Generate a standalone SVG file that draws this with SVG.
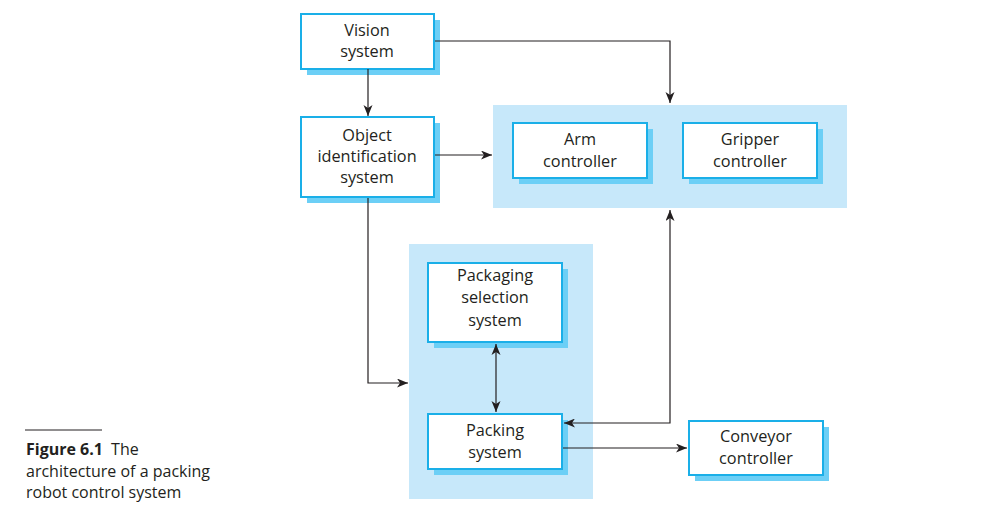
<svg xmlns="http://www.w3.org/2000/svg" width="997" height="519" viewBox="0 0 997 519">
<style>
.bg{fill:#fff}
.cont{fill:#c7e8fa}
.shadow{fill:#6ccff6}
.box{fill:#fff;stroke:#1aafe8;stroke-width:2}
.t{font-family:"Open Sans","Noto Sans",sans-serif;font-size:16.3px;fill:#231f20;text-anchor:middle}
.cap{font-family:"Open Sans","Noto Sans",sans-serif;font-size:16px;fill:#231f20}
.ln{fill:none;stroke:#231f20;stroke-width:1.2}
</style>
<defs>
<marker id="ah" markerWidth="12" markerHeight="10" refX="11" refY="4.5" orient="auto" markerUnits="userSpaceOnUse">
<path d="M0,0 L11,4.5 L0,9 L3,4.5 z" fill="#231f20"/>
</marker>
<marker id="as" markerWidth="12" markerHeight="10" refX="0" refY="4.5" orient="auto" markerUnits="userSpaceOnUse">
<path d="M11,0 L0,4.5 L11,9 L8,4.5 z" fill="#231f20"/>
</marker>
</defs>
<rect class="bg" x="0" y="0" width="997" height="519"/>
<g id="container-controllers">
<rect class="cont" x="493" y="105" width="354" height="103"/>
</g>
<g id="container-packing">
<rect class="cont" x="409" y="244" width="184" height="255"/>
</g>
<g id="vision">
<rect class="shadow" x="307" y="20" width="133" height="55"/>
<rect class="box" x="301" y="14" width="133" height="55"/>
<text class="t" x="367" y="36">Vision</text>
<text class="t" x="367" y="57">system</text>
</g>
<g id="object">
<rect class="shadow" x="307" y="123" width="133" height="80"/>
<rect class="box" x="301" y="117" width="133" height="80"/>
<text class="t" x="367" y="141">Object</text>
<text class="t" x="367" y="162">identification</text>
<text class="t" x="367" y="183">system</text>
</g>
<g id="arm">
<rect class="shadow" x="519" y="129" width="134" height="55"/>
<rect class="box" x="513" y="123" width="134" height="55"/>
<text class="t" x="580" y="145">Arm</text>
<text class="t" x="580" y="167">controller</text>
</g>
<g id="gripper">
<rect class="shadow" x="689" y="129" width="134" height="55"/>
<rect class="box" x="683" y="123" width="134" height="55"/>
<text class="t" x="750" y="145">Gripper</text>
<text class="t" x="750" y="167">controller</text>
</g>
<g id="packaging">
<rect class="shadow" x="434" y="269" width="134" height="79"/>
<rect class="box" x="428" y="263" width="134" height="79"/>
<text class="t" x="495" y="281">Packaging</text>
<text class="t" x="495" y="303">selection</text>
<text class="t" x="495" y="326">system</text>
</g>
<g id="packing">
<rect class="shadow" x="434" y="420" width="134" height="55"/>
<rect class="box" x="428" y="414" width="134" height="55"/>
<text class="t" x="495" y="436">Packing</text>
<text class="t" x="495" y="458">system</text>
</g>
<g id="conveyor">
<rect class="shadow" x="695" y="427" width="134" height="54"/>
<rect class="box" x="689" y="421" width="134" height="54"/>
<text class="t" x="756" y="442">Conveyor</text>
<text class="t" x="756" y="464">controller</text>
</g>
<g id="connectors">
<path class="ln" d="M368,69 V116" marker-end="url(#ah)"/>
<path class="ln" d="M435,41 H670 V103" marker-end="url(#ah)"/>
<path class="ln" d="M435,155 H492" marker-end="url(#ah)"/>
<path class="ln" d="M368,198 V383 H408" marker-end="url(#ah)"/>
<path class="ln" d="M496,344 V412" marker-start="url(#as)" marker-end="url(#ah)"/>
<path class="ln" d="M564,423 H670 V210" marker-start="url(#as)" marker-end="url(#ah)"/>
<path class="ln" d="M563,448 H687" marker-end="url(#ah)"/>
</g>
<g id="caption">
<line x1="25" y1="430" x2="102" y2="430" stroke="#231f20" stroke-width="1"/>
<text class="cap" x="26" y="455"><tspan font-weight="bold">Figure 6.1</tspan>  <tspan dx="4">The</tspan></text>
<text class="cap" x="26" y="477">architecture of a packing</text>
<text class="cap" x="26" y="498">robot control system</text>
</g>
</svg>
